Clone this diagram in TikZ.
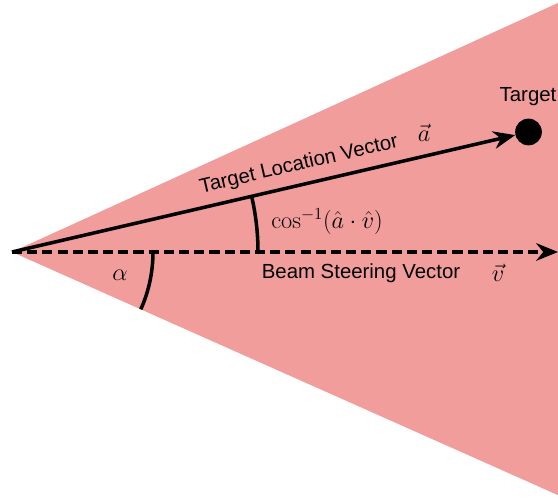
\documentclass[tikz,border=0pt]{standalone}
\usepackage[no-math]{fontspec}
\setmainfont{Liberation Sans}
\usetikzlibrary{arrows.meta}
\definecolor{cone}{RGB}{240,157,155}
\begin{document}
\begin{tikzpicture}[x=0.025cm,y=0.025cm,
  lbl/.style={font=\fontsize{14.5}{17}\selectfont, inner sep=0pt},
  mlbl/.style={font=\fontsize{16.5}{20}\selectfont, inner sep=0pt},
  vec/.style={line width=2.5pt, -{Stealth[length=15.5pt,width=12.5pt,inset=5pt]}},
  arcline/.style={line width=2.5pt}]
\useasboundingbox (0,0) rectangle (558,504);
\begin{scope}
\clip (0,0) rectangle (558,504);
\fill[cone] (12,252) -- (580,511.1) -- (580,-0.9) -- cycle;
\end{scope}
\coordinate (apex) at (12,252);
\coordinate (beamend) at (558,252);
\node[circle, fill=black, minimum size=19, inner sep=0pt] (target) at (528.5,372) {};
\node[lbl] (tlabel) at (528,407) {Target};
\draw[vec, dash pattern=on 7.2pt off 3.6pt] (apex) -- (beamend);
\draw[vec] (apex) -- (target);
\draw[arcline] (153,252) arc[start angle=0, end angle=-24, radius=141];
\draw[arcline] (258,252) arc[start angle=0, end angle=13.1, radius=246];
\node[lbl, rotate=13.1] (tlv) at (299,339) {Target Location Vector};
\node[mlbl] (avec) at (424,371) {$\vec{a}$};
\node[mlbl] (cosl) at (327,282) {$\cos^{-1}(\hat{a}\cdot\hat{v})$};
\node[lbl] (bsv) at (361,231) {Beam Steering Vector};
\node[mlbl] (vvec) at (498,231) {$\vec{v}$};
\node[mlbl] (alph) at (120,229) {$\alpha$};
\end{tikzpicture}
\end{document}
